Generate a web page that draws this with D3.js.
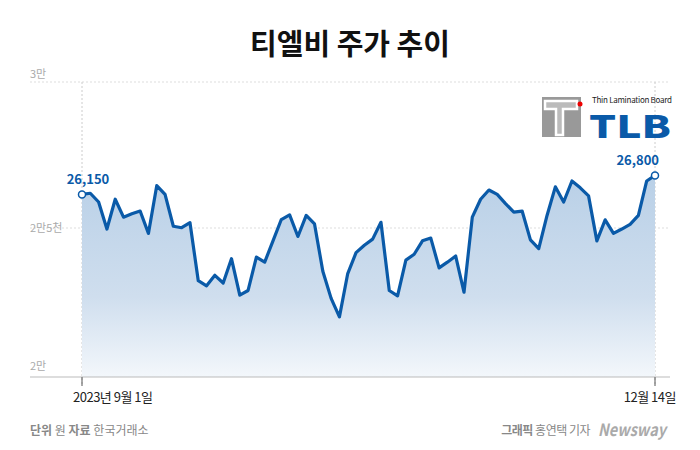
<!DOCTYPE html><html><head><meta charset="utf-8"><script src="https://cdn.jsdelivr.net/npm/d3@7"></script>
<style>body{margin:0;background:#fff}text{font-family:"Noto Sans CJK KR","Noto Sans",sans-serif}</style></head><body><svg id="c" width="700" height="450"></svg><script>
const values=[26150,26190,25890,24965,25985,25370,25485,25580,24815,26450,26150,25060,25010,25185,23195,23020,23380,23115,23950,22700,22860,24005,23830,24560,25290,25450,24710,25430,25140,23520,22590,21955,23440,24155,24410,24620,25195,22860,22675,23900,24100,24560,24655,23635,23830,24040,22800,25370,25985,26300,26150,25835,25545,25580,24595,24295,25430,26410,25890,26610,26375,26100,24560,25280,24815,24965,25125,25430,26610,26800];
const yTicks=[20000,25000,30000];
const yLabels=["2만","2만5천","3만"];
const xLabels=["2023년 9월 1일","12월 14일"];
const svg=d3.select("#c");
const x=d3.scaleLinear().domain([0,values.length-1]).range([82,655]);
const y=d3.scaleLinear().domain([20000,30000]).range([374,82]);
svg.append("text").attr("x",350).attr("y",55).attr("text-anchor","middle").attr("font-size",29).attr("font-weight",700).attr("fill","#111").text("티엘비 주가 추이");
const defs=svg.append("defs");
const g=defs.append("linearGradient").attr("id","gr").attr("x1",0).attr("y1",0).attr("x2",0).attr("y2",1);
g.append("stop").attr("offset","0").attr("stop-color","#b9d0e7");
g.append("stop").attr("offset","0.6").attr("stop-color","#cfdeee");
g.append("stop").attr("offset","1").attr("stop-color","#f3f7fb");
yTicks.forEach((t,i)=>{
 if(i>0) svg.append("line").attr("x1",30).attr("x2",670).attr("y1",y(t)).attr("y2",y(t)).attr("stroke","#ddd").attr("stroke-dasharray","2,2");
 svg.append("text").attr("x",30).attr("y",y(t)-(i==1?-4:4)).attr("font-size",11).attr("fill","#aaa").text(yLabels[i]);
});
[0,values.length-1].forEach(i=>svg.append("line").attr("x1",x(i)).attr("x2",x(i)).attr("y1",82).attr("y2",386).attr("stroke","#ccc").attr("stroke-dasharray","2,2"));
svg.append("path").datum(values).attr("fill","url(#gr)").attr("d",d3.area().x((d,i)=>x(i)).y0(377).y1(d=>y(d)));
svg.append("line").attr("x1",30).attr("x2",670).attr("y1",377).attr("y2",377).attr("stroke","#bbb");
[0,values.length-1].forEach(i=>svg.append("line").attr("x1",x(i)).attr("x2",x(i)).attr("y1",377).attr("y2",386).attr("stroke","#555"));
svg.append("path").datum(values).attr("fill","none").attr("stroke","#0a5aa8").attr("stroke-width",3.2).attr("stroke-linejoin","round").attr("d",d3.line().x((d,i)=>x(i)).y(d=>y(d)));
[0,values.length-1].forEach(i=>{
 svg.append("circle").attr("cx",x(i)).attr("cy",y(values[i])).attr("r",3.5).attr("fill","#fff").attr("stroke","#0a5aa8").attr("stroke-width",1.5);
 svg.append("text").attr("x",i?x(i)+4:x(i)+6).attr("y",y(values[i])-10).attr("text-anchor",i?"end":"middle").attr("font-size",13).attr("font-weight",600).attr("fill","#0a5aa8").attr("font-family","Roboto").text(d3.format(",")(values[i]));
});
svg.append("text").attr("x",x(0)-9).attr("y",402).attr("font-size",13).attr("fill","#222").attr("letter-spacing","-0.5").text(xLabels[0]);
svg.append("text").attr("x",x(values.length-1)+21).attr("y",402).attr("text-anchor","end").attr("font-size",13).attr("fill","#222").attr("letter-spacing","-0.5").text(xLabels[1]);
const f=svg.append("text").attr("x",30).attr("y",435).attr("font-size",12).attr("fill","#888");
f.append("tspan").attr("font-weight",700).text("단위 ");f.append("tspan").text("원  ");f.append("tspan").attr("font-weight",700).text("자료 ");f.append("tspan").text("한국거래소");
const r=svg.append("text").attr("x",590).attr("y",435).attr("text-anchor","end").attr("font-size",12).attr("fill","#888").attr("letter-spacing","-0.5");
r.append("tspan").attr("font-weight",700).text("그래픽 ");r.append("tspan").text("홍연택 기자");
svg.append("text").attr("x",598).attr("y",436).attr("font-size",17).attr("font-style","italic").attr("font-weight",700).attr("fill","#aaa").attr("font-family","Liberation Serif").attr("textLength",68).attr("lengthAdjust","spacingAndGlyphs").text("Newsway");
// logo
const L=svg.append("g");
L.append("rect").attr("x",542).attr("y",97).attr("width",39).attr("height",40).attr("fill","#999");
L.append("path").attr("d","M545 101 H577 V109 H563 V135 H556 V109 H545 Z").attr("fill","#bbb").attr("stroke","#fff").attr("stroke-width",2.5);
L.append("circle").attr("cx",580).attr("cy",104).attr("r",2.5).attr("fill","#e00");
L.append("text").attr("x",592).attr("y",103).attr("font-size",8).attr("font-family","Roboto").attr("fill","#222").attr("textLength",80).text("Thin Lamination Board");
L.append("text").attr("x",589).attr("y",138).attr("font-size",31).attr("font-weight",900).attr("font-family","Roboto").attr("fill","#0a5aa8").attr("textLength",82).attr("lengthAdjust","spacingAndGlyphs").text("TLB");
</script></body></html>
